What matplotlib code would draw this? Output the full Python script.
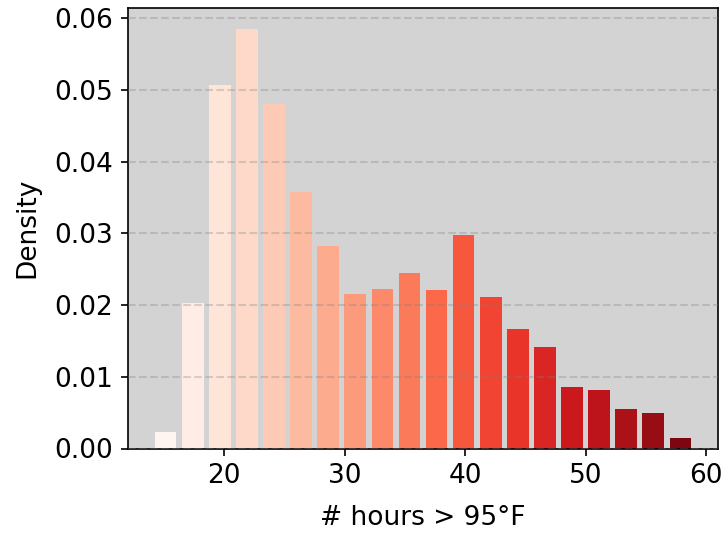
import numpy as np
import matplotlib
matplotlib.use("Agg")
import matplotlib.pyplot as plt

bin_edges = np.linspace(14, 59, 21)
density = [0.0023, 0.0203, 0.0507, 0.0585, 0.0481, 0.0358, 0.0282, 0.0216,
           0.0223, 0.0245, 0.0221, 0.0298, 0.0211, 0.0167, 0.0142, 0.0086,
           0.0082, 0.0055, 0.0050, 0.0015]
xlabel = "# hours > 95°F"
ylabel = "Density"

plt.rcParams['font.size'] = 12.7
fig = plt.figure(figsize=(727/150, 533/150), dpi=150)
ax = fig.add_axes([128/727, 1-448.5/533, (718-128)/727, (448.5-8)/533])

centers = (bin_edges[:-1] + bin_edges[1:]) / 2
width = (bin_edges[1] - bin_edges[0]) * 0.8
colors = plt.cm.Reds(np.arange(len(density)) / len(density))
ax.bar(centers, density, width=width, color=colors)

ax.set_facecolor('lightgray')
ax.set_axisbelow(False)
ax.yaxis.grid(True, linestyle='--', color='gray', alpha=0.3, linewidth=1)
ax.set_xlabel(xlabel, labelpad=7.5)
ax.set_ylabel(ylabel, labelpad=7)
ax.set_xticks([20, 30, 40, 50, 60])
ax.set_yticks([0, 0.01, 0.02, 0.03, 0.04, 0.05, 0.06])

fig.savefig("out.png", dpi=150)
